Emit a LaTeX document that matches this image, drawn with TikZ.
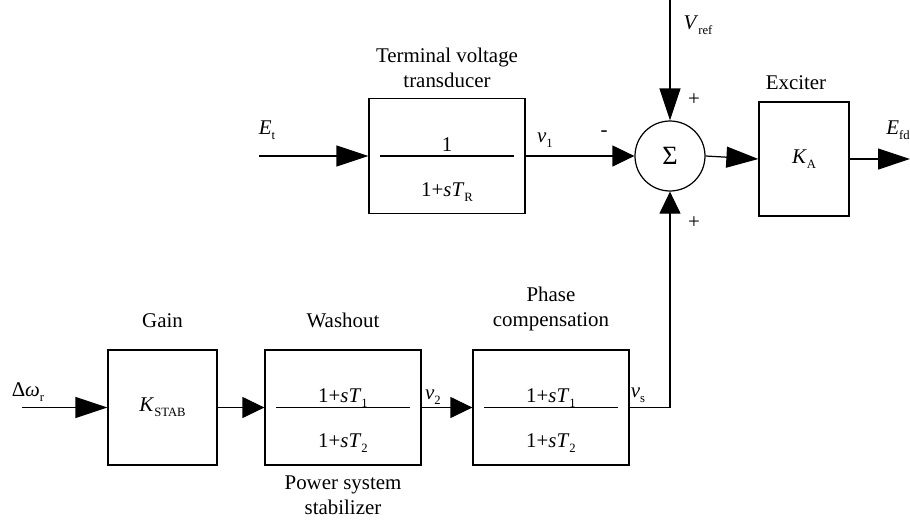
\documentclass[tikz,border=0pt]{standalone}
\usepackage{fontspec}
\setmainfont{Liberation Serif}
\usepackage{tikz}
\usetikzlibrary{arrows.meta,positioning,calc}
\newcommand{\lowsub}[1]{\raisebox{-0.55ex}{\fontsize{7.2}{8}\selectfont #1}}

\begin{document}
\begin{tikzpicture}[
    font=\fontsize{11.9}{14.2}\selectfont,
    block/.style={draw, line width=0.7pt, minimum width=3.12cm, minimum height=2.30cm, inner sep=0pt},
    sumnode/.style={draw, circle, line width=0.7pt, minimum size=1.40cm, inner sep=0pt, font=\fontsize{15}{18}\selectfont},
    title/.style={align=center, inner sep=0pt},
    sig/.style={-{Triangle[length=0.64cm,width=0.42cm]}, line width=0.7pt},
    sigs/.style={-{Triangle[length=0.44cm,width=0.42cm]}, line width=0.7pt}
  ]
    \useasboundingbox (0,0) rectangle (18.2,-10.5);
    \node[block] (tvt) at (8.94,-3.12) {};
    \node[sumnode] (sum) at (13.4,-3.12) {Σ};
    \node[block, minimum width=1.80cm, minimum height=2.28cm] (exc) at (16.08,-3.18) {\textit{K}\lowsub{A}};
    \node[block, minimum width=2.18cm] (gain) at (3.25,-8.15) {\textit{K}\lowsub{STAB}};
    \node[block] (wash) at (6.86,-8.15) {};
    \node[block] (phase) at (11.02,-8.15) {};
    \foreach \b in {tvt,wash,phase} {\draw[line width=0.7pt] ([xshift=0.24cm]\b.west) -- ([xshift=-0.24cm]\b.east);}
    \node[anchor=base] (tvtnum) at ([yshift=0.1cm]tvt.center) {1};
    \node[anchor=base] (tvtden) at ([yshift=-0.8cm]tvt.center) {1+\textit{sT}\lowsub{R}};
    \foreach \b in {wash,phase} {
      \node[anchor=base] (\b num) at ([yshift=0.1cm]\b.center) {1+\textit{sT}\lowsub{1}};
      \node[anchor=base] (\b den) at ([yshift=-0.8cm]\b.center) {1+\textit{sT}\lowsub{2}};
    }
    \node[title] (tvttitle) at (8.94,-1.35) {Terminal voltage\\transducer};
    \node[title] (exctitle) at (15.92,-1.66) {Exciter};
    \node[title] (gaintitle) at (3.25,-6.42) {Gain};
    \node[title] (washtitle) at (6.86,-6.40) {Washout};
    \node[title] (phasetitle) at (11.02,-6.17) {Phase\\compensation};
    \node[title] (psstitle) at (6.86,-9.91) {Power system\\stabilizer};
    \coordinate (etin) at (5.18,-3.12);
    \coordinate (vref) at (13.4,0);
    \coordinate (efd) at (18.2,-3.18);
    \coordinate (dwin) at (0.44,-8.15);
    \node (et) at (5.34,-2.6) {\textit{E}\lowsub{t}};
    \node (v1) at (10.9,-2.8) {\textit{ν}\lowsub{1}};
    \node (minus) at (12.08,-2.68) {-};
    \node (vreflbl) at (13.96,-0.5) {\textit{V}\lowsub{ref}};
    \node (plustop) at (13.88,-2.0) {+};
    \node (plusbot) at (13.88,-4.46) {+};
    \node (efdlbl) at (17.96,-2.6) {\textit{E}\lowsub{fd}};
    \node (dw) at (0.56,-7.84) {Δ\textit{ω}\lowsub{r}};
    \node (v2) at (8.66,-7.94) {\textit{ν}\lowsub{2}};
    \node (vs) at (12.76,-7.9) {\textit{ν}\lowsub{s}};
    \draw[sig] (etin) -- (tvt.west);
    \draw[sigs] (tvt.east) -- (sum.west);
    \draw[sig] (vref) -- (sum.north);
    \draw[sig] (sum.east) -- (exc.west);
    \draw[sig] (exc.east) -- (efd);
    \draw[sig] (dwin) -- (gain.west);
    \foreach \a/\b in {gain/wash,wash/phase} {\draw[sigs] (\a) -- (\b);}
    \draw[sigs] (phase.east) -| (sum.south);
  \end{tikzpicture}
\end{document}
